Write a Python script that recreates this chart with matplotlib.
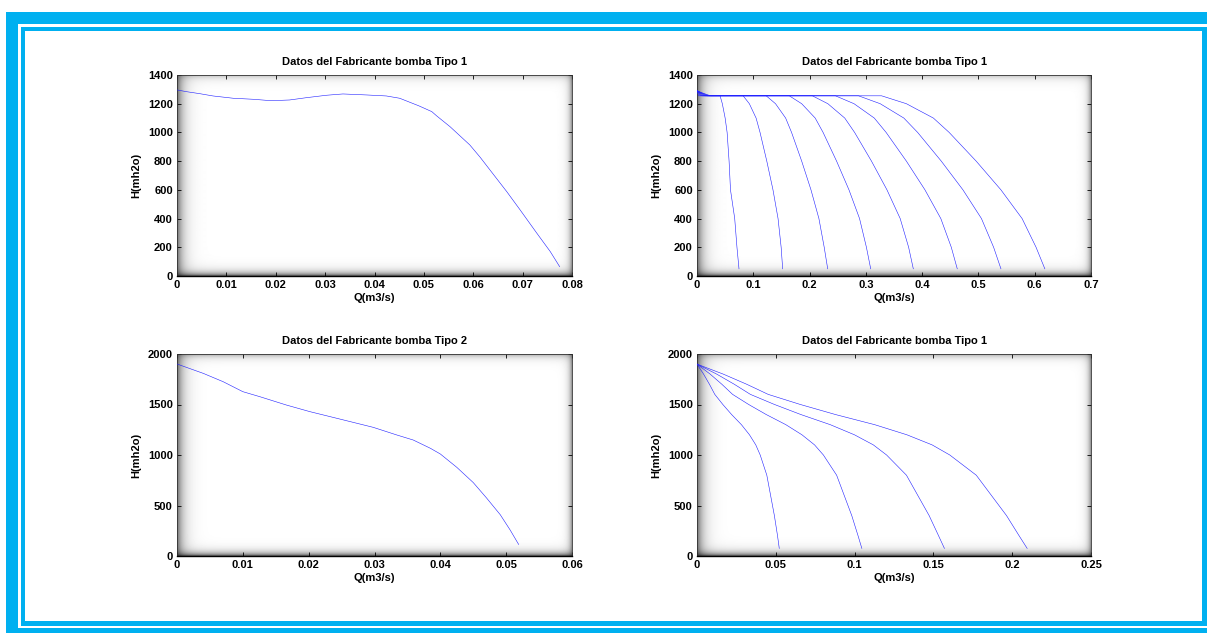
import numpy as np
import matplotlib
matplotlib.use("Agg")
from matplotlib import pyplot as plt
from matplotlib.patches import Rectangle

plt.rcParams["font.family"] = ["Liberation Sans", "DejaVu Sans"]
plt.rcParams["font.size"] = 8
plt.rcParams["font.weight"] = "bold"
plt.rcParams["axes.labelweight"] = "bold"
plt.rcParams["axes.titleweight"] = "bold"

W, H = 1207, 633
FRAME = "#00b0f0"
LINE = "#2020ff"

title_1 = "Datos del Fabricante bomba Tipo 1"
title_2 = "Datos del Fabricante bomba Tipo 2"
x_label = "Q(m3/s)"
y_label = "H(mh2o)"

# bomba tipo 1 (curva del fabricante)
tipo1_q = [0, 0.0019, 0.0046, 0.0073, 0.0114, 0.0154, 0.0191, 0.0228, 0.0262,
           0.0303, 0.0336, 0.0384, 0.0424, 0.0451, 0.0490, 0.0516, 0.0526,
           0.0553, 0.0593, 0.0614, 0.0634, 0.0668, 0.0695, 0.0729, 0.0756, 0.0775]
tipo1_h = [1296, 1284, 1270, 1254, 1238, 1231, 1221, 1226, 1242,
           1259, 1268, 1261, 1254, 1238, 1185, 1145, 1115,
           1040, 913, 827, 738, 587, 460, 297, 170, 65]

# bomba tipo 1, varias bombas en paralelo (mismos niveles de H)
paralelo_h = [1290, 1275, 1255, 1255, 1200, 1100, 1000, 800, 600, 400, 200, 50]
paralelo_q = [
    [0, 0.0012, 0.003, 0.041, 0.045, 0.050, 0.0535, 0.057, 0.0595, 0.067, 0.071, 0.0746],
    [0, 0.0024, 0.006, 0.082, 0.093, 0.105, 0.112, 0.124, 0.135, 0.144, 0.1495, 0.1522],
    [0, 0.0036, 0.009, 0.123, 0.1395, 0.1575, 0.168, 0.186, 0.2025, 0.2166, 0.226, 0.2322],
    [0, 0.0048, 0.012, 0.164, 0.186, 0.210, 0.224, 0.248, 0.270, 0.2888, 0.301, 0.3086],
    [0, 0.006, 0.015, 0.205, 0.2325, 0.2625, 0.280, 0.310, 0.3375, 0.361, 0.376, 0.3843],
    [0, 0.0072, 0.018, 0.246, 0.279, 0.315, 0.336, 0.372, 0.405, 0.4332, 0.4518, 0.4624],
    [0, 0.0084, 0.021, 0.287, 0.3255, 0.3675, 0.392, 0.434, 0.4725, 0.5054, 0.527, 0.540],
    [0, 0.0096, 0.024, 0.328, 0.372, 0.420, 0.448, 0.496, 0.540, 0.5776, 0.6024, 0.618],
]

# bomba tipo 2 (curva del fabricante)
tipo2_q = [0, 0.0040, 0.0070, 0.0100, 0.0126, 0.0166, 0.0202, 0.0243, 0.0298,
           0.0334, 0.0359, 0.0385, 0.0400, 0.0425, 0.0450, 0.0470, 0.0491,
           0.0506, 0.0519]
tipo2_h = [1901, 1808, 1726, 1627, 1577, 1495, 1429, 1363, 1274,
           1198, 1148, 1066, 1010, 878, 727, 576, 409, 258, 114]

# bombas en paralelo, panel inferior derecho
serie_h = [1900, 1800, 1700, 1600, 1500, 1400, 1300, 1200, 1100, 1000, 800, 600, 400, 200, 75]
serie_q = [
    [0, 0.0042, 0.0079, 0.0113, 0.0164, 0.0220, 0.0282, 0.0333, 0.0373, 0.0401, 0.0443, 0.0467, 0.0491, 0.0511, 0.0522],
    [0, 0.0084, 0.0158, 0.0226, 0.0328, 0.0440, 0.0564, 0.0666, 0.0746, 0.0802, 0.0886, 0.0934, 0.0982, 0.1022, 0.1046],
    [0, 0.0126, 0.0237, 0.0339, 0.0492, 0.0660, 0.0846, 0.0999, 0.1119, 0.1203, 0.1329, 0.1401, 0.1473, 0.1533, 0.1570],
    [0, 0.0168, 0.0316, 0.0452, 0.0656, 0.0880, 0.1128, 0.1332, 0.1492, 0.1604, 0.1772, 0.1868, 0.1964, 0.2044, 0.2095],
]

xticks_tl = ["0", "0.01", "0.02", "0.03", "0.04", "0.05", "0.06", "0.07", "0.08"]
xticks_tr = ["0", "0.1", "0.2", "0.3", "0.4", "0.5", "0.6", "0.7"]
xticks_bl = ["0", "0.01", "0.02", "0.03", "0.04", "0.05", "0.06"]
xticks_br = ["0", "0.05", "0.1", "0.15", "0.2", "0.25"]
yticks_top = ["0", "200", "400", "600", "800", "1000", "1200", "1400"]
yticks_bot = ["0", "500", "1000", "1500", "2000"]


def px_rect(x0, y0, x1, y1):
    # pixel box (origin top-left) -> figure fraction
    return x0 / W, 1 - y1 / H, (x1 - x0) / W, (y1 - y0) / H


def band(fig, x0, y0, x1, y1):
    l, b, w, h = px_rect(x0, y0, x1, y1)
    fig.add_artist(Rectangle((l, b), w, h, transform=fig.transFigure,
                             facecolor=FRAME, edgecolor="none", zorder=5))


def bevel(w, h):
    x = np.arange(w) + 0.5
    y = np.arange(h) + 0.5
    cols = (1 - 0.6 * np.exp(-x / 6)) * (1 - 0.45 * np.exp(-(w - x) / 3))
    rows = (1 - 0.35 * np.exp(-y / 3.5)) * (1 - 0.7 * np.exp(-(h - y) / 3.5))
    return rows[:, None] * cols[None, :]


def panel(fig, box, title, xlabels, ylabels):
    ax = fig.add_axes(px_rect(*box))
    ax.set_facecolor("white")
    img = bevel(box[2] - box[0], box[3] - box[1])
    ax.imshow(img, cmap="gray", vmin=0, vmax=1, extent=[0, 1, 0, 1],
              transform=ax.transAxes, aspect="auto", interpolation="bilinear",
              zorder=0)
    xt = [float(v) for v in xlabels]
    yt = [float(v) for v in ylabels]
    ax.set_xticks(xt, xlabels)
    ax.set_yticks(yt, ylabels)
    ax.set_xlim(xt[0], xt[-1])
    ax.set_ylim(yt[0], yt[-1])
    ax.tick_params(direction="in", length=3, width=0.6, top=True, right=True,
                   pad=3, colors="black", labelsize=8)
    for s in ax.spines.values():
        s.set_linewidth(0.6)
        s.set_color("#333333")
    ax.spines["bottom"].set_color("black")
    ax.spines["bottom"].set_linewidth(1.0)
    ax.set_title(title, fontsize=8, fontweight="bold", pad=7)
    ax.set_xlabel(x_label, fontsize=8, fontweight="bold", labelpad=2)
    ax.set_ylabel(y_label, fontsize=8, fontweight="bold", labelpad=5)
    return ax


fig = plt.figure(figsize=(W / 100, H / 100), dpi=100)
fig.patch.set_facecolor("white")

lw = 0.4

ax1 = panel(fig, (177, 75, 572, 276), title_1, xticks_tl, yticks_top)
ax1.plot(tipo1_q, tipo1_h, color=LINE, lw=lw, zorder=3)

ax2 = panel(fig, (697, 75, 1091, 276), title_1, xticks_tr, yticks_top)
for q in paralelo_q:
    ax2.plot(q, paralelo_h, color=LINE, lw=lw, zorder=3)

ax3 = panel(fig, (177, 354, 572, 556), title_2, xticks_bl, yticks_bot)
ax3.plot(tipo2_q, tipo2_h, color=LINE, lw=lw, zorder=3)

ax4 = panel(fig, (697, 354, 1091, 556), title_1, xticks_br, yticks_bot)
for q in serie_q:
    ax4.plot(q, serie_h, color=LINE, lw=lw, zorder=3)

# double cyan frame
band(fig, 6, 12, 1207, 24)
band(fig, 6, 12, 18, 633)
band(fig, 6, 628, 1207, 633)
band(fig, 21, 27, 1207, 31)
band(fig, 21, 27, 25, 626)
band(fig, 21, 621, 1207, 626)
band(fig, 1202, 27, 1207, 626)

fig.savefig("out.png", dpi=100)
